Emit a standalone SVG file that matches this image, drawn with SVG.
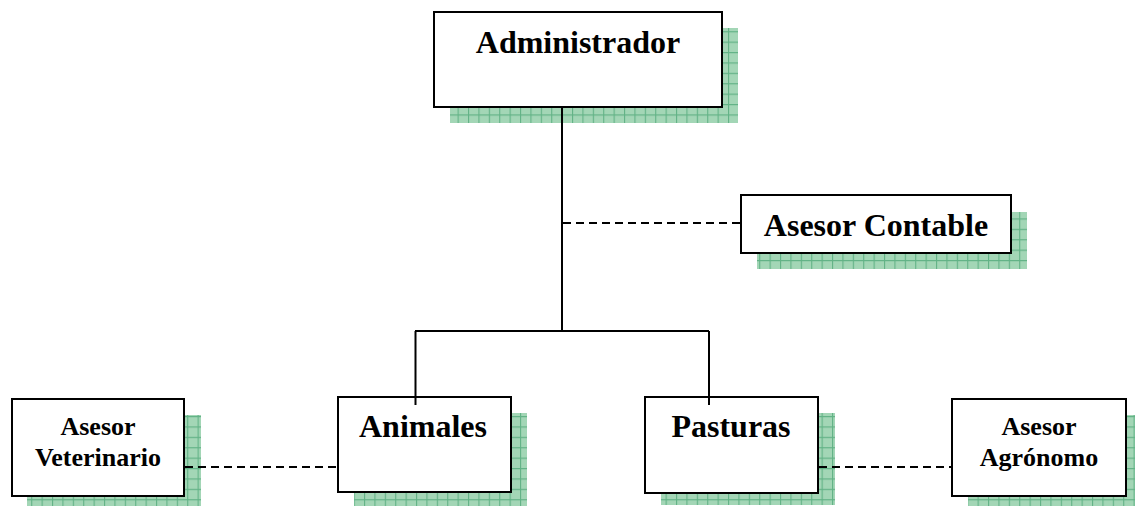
<svg xmlns="http://www.w3.org/2000/svg" width="1135" height="506" viewBox="0 0 1135 506">
<defs>
<pattern id="grid" patternUnits="userSpaceOnUse" width="10.4" height="10.4">
<rect width="10.4" height="10.4" fill="#a3d6b6"/>
<path d="M0 0.5H10.4M0.5 0V10.4" stroke="#62b286" stroke-width="1.2" fill="none"/>
</pattern>
</defs>
<style>
.shadow{fill:url(#grid);}
.box{fill:#fff;stroke:#000;stroke-width:2;}
.big{font-family:"Liberation Serif","Times New Roman",serif;font-weight:bold;font-size:32px;text-anchor:middle;fill:#000;}
.small{font-family:"Liberation Serif","Times New Roman",serif;font-weight:bold;font-size:26px;text-anchor:middle;fill:#000;}
.solid{stroke:#000;stroke-width:2;fill:none;}
.dash{stroke:#000;stroke-width:2;fill:none;stroke-dasharray:8 5;}
</style>
<rect width="1135" height="506" fill="#fff"/>
<g id="administrador">
<rect class="shadow" x="450" y="28" width="288" height="95"/>
<rect class="box" x="434" y="12" width="288" height="95"/>
<text class="big" x="578" y="53">Administrador</text>
</g>
<g id="asesor-contable">
<rect class="shadow" x="757" y="212" width="270" height="57"/>
<rect class="box" x="741" y="195" width="270" height="58"/>
<text class="big" x="876" y="236">Asesor Contable</text>
</g>
<g id="animales">
<rect class="shadow" x="354" y="413" width="173" height="93"/>
<rect class="box" x="338" y="397" width="173" height="95"/>
<text class="big" x="423" y="437">Animales</text>
</g>
<g id="pasturas">
<rect class="shadow" x="661" y="413" width="174" height="92"/>
<rect class="box" x="645" y="397" width="173" height="96"/>
<text class="big" x="731" y="437">Pasturas</text>
</g>
<g id="asesor-veterinario">
<rect class="shadow" x="27" y="415" width="174" height="92"/>
<rect class="box" x="12" y="399" width="172" height="97"/>
<text class="small" x="98" y="435">Asesor</text>
<text class="small" x="98" y="466">Veterinario</text>
</g>
<g id="asesor-agronomo">
<rect class="shadow" x="968" y="415" width="167" height="92"/>
<rect class="box" x="952" y="399" width="174" height="97"/>
<text class="small" x="1039" y="435">Asesor</text>
<text class="small" x="1039" y="466">Agrónomo</text>
</g>
<g id="connectors">
<path class="solid" d="M562 108V331M415 331H709M415.5 331V405M709 331V405"/>
<path class="dash" d="M563 223H740"/>
<path class="dash" d="M185 467H337"/>
<path class="dash" d="M819 467H951"/>
</g>
</svg>
